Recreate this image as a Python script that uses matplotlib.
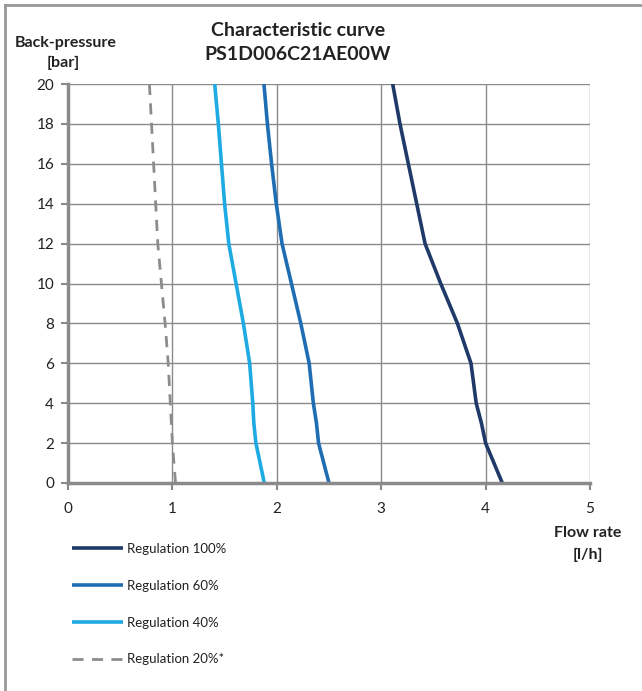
import numpy as np
import matplotlib
matplotlib.use("Agg")
import matplotlib.pyplot as plt
from matplotlib.lines import Line2D

plt.rcParams['font.family'] = ['Lato', 'DejaVu Sans']

# back-pressure [bar] sample points, flow rate [l/h]
pressure = [0, 2, 3, 4, 6, 8, 10, 12, 14, 16, 18, 20]
flow_100 = [4.16, 4.00, 3.96, 3.91, 3.86, 3.73, 3.57, 3.42, 3.34, 3.26, 3.18, 3.11]
flow_60 = [2.50, 2.40, 2.38, 2.35, 2.31, 2.23, 2.14, 2.05, 1.995, 1.95, 1.91, 1.877]
flow_40 = [1.88, 1.80, 1.78, 1.77, 1.74, 1.68, 1.61, 1.54, 1.50, 1.47, 1.44, 1.405]
flow_20 = [1.03, 1.00, 0.99, 0.98, 0.96, 0.93, 0.895, 0.86, 0.84, 0.82, 0.80, 0.78]

labels = ["Regulation 100%", "Regulation 60%", "Regulation 40%", "Regulation 20%*"]
colors = ["#1f3a68", "#1f6db3", "#1eaae2", "#8c8c8c"]

W, H = 642, 691
fig = plt.figure(figsize=(W / 100, H / 100), dpi=100)
ax = fig.add_axes([68 / W, 1 - 483 / H, (590 - 68) / W, (483 - 84) / H])

series = [flow_100, flow_60, flow_40, flow_20]
for flow, lab, col in zip(series, labels, colors):
    if lab.endswith("*"):
        ax.plot(flow, pressure, color=col, lw=2.0, ls=(0, (4, 3)), label=lab)
    else:
        ax.plot(flow, pressure, color=col, lw=2.6, label=lab, solid_capstyle='butt')

ax.set_xlim(0, 5)
ax.set_ylim(0, 20)
ax.set_xticks(range(0, 6))
ax.set_yticks(range(0, 21, 2))
ax.grid(True, color="#8a8a8a", lw=1.0)
ax.set_axisbelow(True)
for s in ['top', 'right']:
    ax.spines[s].set_visible(False)
for s in ['left', 'bottom']:
    ax.spines[s].set_color("#8a8a8a")
    ax.spines[s].set_linewidth(2.5)
ax.tick_params(axis='both', direction='out', length=5, width=1.5, color="#8a8a8a",
               labelsize=11, labelcolor="#222222")
ax.tick_params(axis='x', pad=9)
ax.tick_params(axis='y', pad=5)

fig.text(298 / W, 1 - 30 / H, "Characteristic curve", ha='center', va='center',
         fontsize=14, fontweight='bold', color="#222222")
fig.text(298 / W, 1 - 55 / H, "PS1D006C21AE00W", ha='center', va='center',
         fontsize=14, fontweight='bold', color="#222222")
fig.text(66 / W, 1 - 43 / H, "Back-pressure", ha='center', va='center',
         fontsize=11.5, fontweight='bold', color="#222222")
fig.text(63 / W, 1 - 63 / H, "[bar]", ha='center', va='center',
         fontsize=11.5, fontweight='bold', color="#222222")
fig.text(588 / W, 1 - 533 / H, "Flow rate", ha='center', va='center',
         fontsize=11.5, fontweight='bold', color="#222222")
fig.text(588 / W, 1 - 555 / H, "[l/h]", ha='center', va='center',
         fontsize=11.5, fontweight='bold', color="#222222")

fig.legend(loc='upper left', bbox_to_anchor=(72 / W, 1 - 543 / H), frameon=False,
           fontsize=9.5, handlelength=3.9, handletextpad=0.25, labelspacing=1.88,
           borderpad=0, borderaxespad=0, labelcolor="#222222")

# outer frame (top and left only)
fig.add_artist(Line2D([5 / W, 1], [1 - 5 / H, 1 - 5 / H], transform=fig.transFigure,
                      color="#999999", lw=2))
fig.add_artist(Line2D([5 / W, 5 / W], [0, 1 - 5 / H], transform=fig.transFigure,
                      color="#999999", lw=2))

fig.savefig("out.png", dpi=100)
